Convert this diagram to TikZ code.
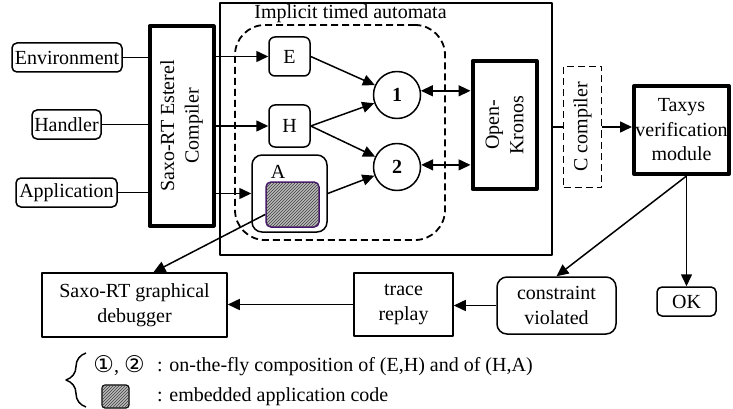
\documentclass[tikz,border=0pt]{standalone}
\usepackage{fontspec}
\setmainfont{Liberation Serif}
\newfontfamily\symfont[Scale=1.15]{DejaVu Sans}
\usetikzlibrary{arrows.meta,decorations.pathreplacing,patterns}
\definecolor{codeedge}{RGB}{70,20,110}

\begin{document}
\begin{tikzpicture}[x=1pt,y=-1pt,line join=round,>={Triangle[length=12pt,width=11pt]},
	font=\fontsize{20}{24.5}\selectfont,every node/.style={inner sep=0pt},
	src/.style={draw,rounded corners=5pt,line width=1.5pt,minimum height=29pt},
	plain/.style={draw,line width=1.5pt,align=center},
	heavy/.style={draw,line width=4pt,align=center},
	dashbox/.style={draw,line width=1.8pt,dash pattern=on 7pt off 4pt},
	circ/.style={draw,circle,line width=1.5pt,minimum size=47pt,font=\fontsize{20}{24}\selectfont\bfseries},
	codebox/.style={fill=gray!55,postaction={pattern=north east lines,pattern color=black!75}},
	ln/.style={line width=1.5pt}]
	\useasboundingbox (0,0) rectangle (733,409);
	% sources and compiler
	\node[src,minimum width=110pt] (env) at (67,57.5) {Environment};
	\node[src,minimum width=69pt] (hdl) at (66.5,124.5) {Handler};
	\node[src,minimum width=101pt] (app) at (66.5,192.5) {Application};
	\node[heavy,minimum width=64pt,minimum height=199pt] (comp) at (181.5,126) {};
	\node[rotate=90,align=center] (comptxt) at (comp) {Saxo-RT Esterel\\Compiler};
	% implicit timed automata
	\node[draw,line width=1.5pt,minimum width=332pt,minimum height=252pt] (ita) at (386,129) {};
	\node (itatxt) at (350.5,14) {Implicit timed automata};
	\node[dashbox,rounded corners=30pt,minimum width=210pt,minimum height=215pt] (grp) at (340,132.5) {};
	\node[plain,rounded corners=6pt,minimum width=41pt,minimum height=39pt] (e) at (289.5,56.5) {E};
	\node[plain,rounded corners=6pt,minimum width=41pt,minimum height=42pt] (h) at (289.5,126) {H};
	\node[plain,rounded corners=10pt,minimum width=75pt,minimum height=77pt] (a) at (289.5,193.5) {};
	\node (atxt) at (278,172) {A};
	\node[codebox,draw=codeedge,line width=1.5pt,rounded corners=5pt,minimum width=53pt,minimum height=45pt] (code) at (292.5,204.5) {};
	\node[circ] (c1) at (397,95) {1};
	\node[circ] (c2) at (397,167) {2};
	\node[heavy,minimum width=64pt,minimum height=128pt] (kron) at (504.5,125) {};
	\node[rotate=90,align=center] (krontxt) at (kron) {Open-\\Kronos};
	% verification
	\node[dashbox,minimum width=38pt,minimum height=121pt] (ccomp) at (582.5,127) {};
	\node[rotate=90] (ccomptxt) at (ccomp) {C compiler};
	\node[heavy,minimum width=95pt,minimum height=88pt] (tax) at (681.5,130) {Taxys\\verification\\module};
	\node[src,minimum width=59pt] (ok) at (686.5,301.5) {OK};
	\node[plain,rounded corners=10pt,minimum width=119pt,minimum height=57pt] (viol) at (556.5,305.5) {constraint\\violated};
	\node[plain,minimum width=99pt,minimum height=63pt] (rep) at (403.5,304.5) {trace\\replay};
	\node[plain,minimum width=185pt,minimum height=64pt] (dbg) at (134.5,305) {Saxo-RT graphical\\debugger};
	% connectors
	\draw[ln] (env.east) -- (env.east -| comp.west);
	\draw[ln] (hdl.east) -- (hdl.east -| comp.west);
	\draw[ln] (app.east) -- (app.east -| comp.west);
	\draw[ln,->] (comp.east |- e.west) -- (e.west);
	\draw[ln,->] (comp.east |- h.west) -- (h.west);
	\draw[ln,->] (comp.east |- a.west) -- (a.west);
	\draw[ln,->] (e.east) -- (c1);
	\draw[ln,->] (h.east) -- (c1);
	\draw[ln,->] (h.east) -- (c2);
	\draw[ln,->] (a.east) -- (c2);
	\draw[ln,<->] (c1.10) -- (c1.10 -| kron.west);
	\draw[ln,<->] (c2.5) -- (c2.5 -| kron.west);
	\draw[ln] (ita.east |- ccomp.west) -- (ccomp.west);
	\draw[ln,->] (ccomp.east) -- (ccomp.east -| tax.west);
	\draw[ln,->] (tax.south -| ok.north) -- (ok.north);
	\draw[ln,->] (tax.south -| ok.north) -- (viol.north);
	\draw[ln,->] (viol.west) -- (viol.west -| rep.east);
	\draw[ln,->] (rep.west) -- (rep.west -| dbg.east);
	\draw[ln,->] (code.200) -- (dbg.60);
	% legend
	\draw[ln,decorate,decoration={brace,amplitude=20pt}] (86,407) -- (86,353);
	\node (leg1) at (119,366) {{\symfont ①}, {\symfont ②}};
	\node[anchor=west] (leg1d) at (157,367) {: on-the-fly composition of (E,H) and of (H,A)};
	\node[codebox,draw,line width=1.2pt,rounded corners=3pt,minimum width=27pt,minimum height=23pt] (legbox) at (115.5,396.5) {};
	\node[anchor=west] (leg2d) at (157,397) {: embedded application code};
\end{tikzpicture}
\end{document}
